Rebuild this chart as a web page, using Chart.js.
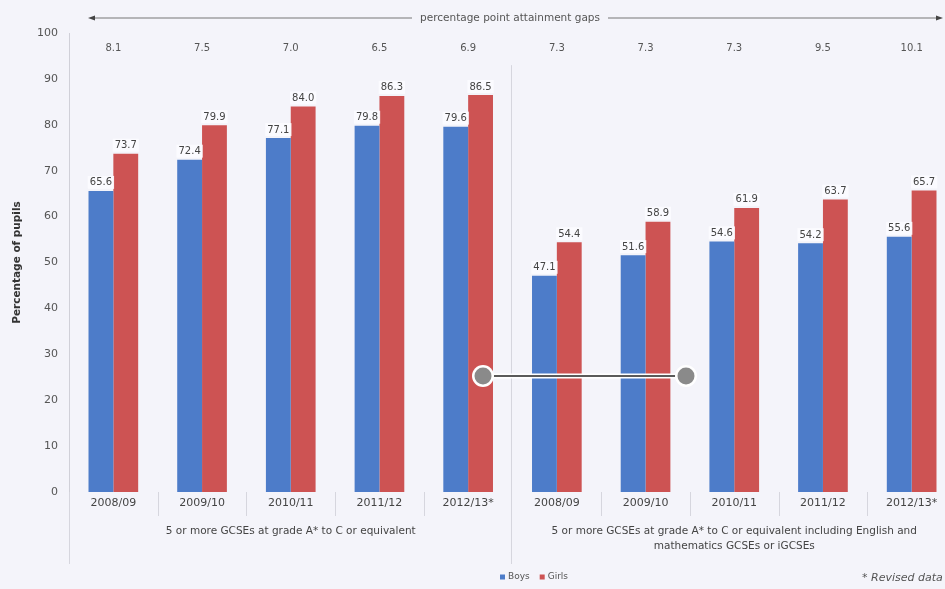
<!DOCTYPE html>
<html>
<head>
<meta charset="utf-8">
<script src="https://cdn.jsdelivr.net/npm/chart.js@4.4.0/dist/chart.umd.min.js"></script>
<style>
  html, body { margin: 0; padding: 0; background: #f4f4fa; overflow: hidden; }
  #wrap { width: 956px; height: 589px; position: relative; }
</style>
</head>
<body>
<div id="wrap"><canvas id="chart-0"></canvas></div>
<script>
// attainment by year, two measures side by side
var years = ['2008/09', '2009/10', '2010/11', '2011/12', '2012/13*',
             '2008/09', '2009/10', '2010/11', '2011/12', '2012/13*'];
var boys  = [65.6, 72.4, 77.1, 79.8, 79.6, 47.1, 51.6, 54.6, 54.2, 55.6];
var girls = [73.7, 79.9, 84.0, 86.3, 86.5, 54.4, 58.9, 61.9, 63.7, 65.7];
var gaps  = ['8.1', '7.5', '7.0', '6.5', '6.9', '7.3', '7.3', '7.3', '9.5', '10.1'];
var groupNames = [
  ['5 or more GCSEs at grade A* to C or equivalent'],
  ['5 or more GCSEs at grade A* to C or equivalent including English and', 'mathematics GCSEs or iGCSEs']
];
var yTicks = [0, 10, 20, 30, 40, 50, 60, 70, 80, 90, 100];

var BLUE = '#4d7cc9', RED = '#cd5353';
var FONT = '"DejaVu Sans", sans-serif';

var extras = {
  id: 'extras',
  afterDatasetsDraw: function (chart) {
    var ctx = chart.ctx, area = chart.chartArea;
    var xs = chart.scales.x, ys = chart.scales.y;
    var n = years.length, half = n / 2;
    var mid = function (i) { return (xs.getPixelForValue(i - 1) + xs.getPixelForValue(i)) / 2; };
    ctx.save();

    // separators under the axis
    ctx.strokeStyle = '#d6d6de';
    ctx.lineWidth = 1;
    for (var i = 1; i < n; i++) {
      if (i === half) continue;
      var sx = Math.round(mid(i)) + 0.5;
      ctx.beginPath(); ctx.moveTo(sx, area.bottom); ctx.lineTo(sx, area.bottom + 24); ctx.stroke();
    }
    [area.left, mid(half) - 2].forEach(function (gx) {
      var top = gx > area.left + 2 ? ys.getPixelForValue(93) : area.bottom;
      gx = Math.round(gx) + 0.5;
      ctx.beginPath(); ctx.moveTo(gx, top); ctx.lineTo(gx, area.bottom + 72); ctx.stroke();
    });

    // value labels over the bars
    ctx.font = '10px ' + FONT;
    ctx.textAlign = 'center';
    ctx.textBaseline = 'bottom';
    chart.data.datasets.forEach(function (ds, d) {
      chart.getDatasetMeta(d).data.forEach(function (bar, j) {
        var txt = ds.data[j].toFixed(1);
        var w = ctx.measureText(txt).width + 4;
        ctx.fillStyle = 'rgba(252,252,255,0.9)';
        ctx.fillRect(bar.x - w / 2, bar.y - 15, w, 13);
        ctx.fillStyle = '#444';
        ctx.fillText(txt, bar.x, bar.y - 3);
      });
    });

    // gap figures along the top
    ctx.font = '10px ' + FONT;
    ctx.fillStyle = '#555';
    ctx.textBaseline = 'middle';
    gaps.forEach(function (g, j) { ctx.fillText(g, xs.getPixelForValue(j), 48); });

    // arrow with caption
    var cap = 'percentage point attainment gaps';
    var capX = 510, capY = 18;
    ctx.font = '10.5px ' + FONT;
    ctx.fillStyle = '#555';
    ctx.fillText(cap, capX, capY);
    var cw = ctx.measureText(cap).width;
    ctx.strokeStyle = '#777';
    ctx.lineWidth = 1.2;
    ctx.beginPath();
    ctx.moveTo(92, capY); ctx.lineTo(capX - cw / 2 - 8, capY);
    ctx.moveTo(capX + cw / 2 + 8, capY); ctx.lineTo(940, capY);
    ctx.stroke();
    ctx.fillStyle = '#444';
    ctx.beginPath(); ctx.moveTo(88, capY); ctx.lineTo(95, capY - 2.5); ctx.lineTo(95, capY + 2.5); ctx.fill();
    ctx.beginPath(); ctx.moveTo(943, capY); ctx.lineTo(936, capY - 2.5); ctx.lineTo(936, capY + 2.5); ctx.fill();

    // group captions under the year labels
    ctx.font = '10.5px ' + FONT;
    ctx.fillStyle = '#444';
    groupNames.forEach(function (lines, g) {
      var a = g === 0 ? area.left : mid(half);
      var b = g === 0 ? mid(half) : area.right;
      lines.forEach(function (t, k) { ctx.fillText(t, (a + b) / 2, 531 + k * 15); });
    });

    // legend
    var lx = 500, ly = 577;
    ctx.textAlign = 'left';
    ctx.font = '9px ' + FONT;
    [['Boys', BLUE], ['Girls', RED]].forEach(function (it) {
      ctx.fillStyle = it[1];
      ctx.fillRect(lx, ly - 2.5, 5, 5);
      ctx.fillStyle = '#555';
      ctx.fillText(it[0], lx + 8, ly);
      lx += 8 + ctx.measureText(it[0]).width + 10;
    });
    ctx.font = 'italic 11px ' + FONT;
    ctx.fillText('* Revised data', 862, 578);

    // grey slider handle across the middle
    var hy = 376;
    ctx.strokeStyle = '#ffffff';
    ctx.lineWidth = 5;
    ctx.beginPath(); ctx.moveTo(483, hy); ctx.lineTo(686, hy); ctx.stroke();
    ctx.strokeStyle = '#5a5a5a';
    ctx.lineWidth = 2;
    ctx.beginPath(); ctx.moveTo(483, hy); ctx.lineTo(686, hy); ctx.stroke();
    [483, 686].forEach(function (cx) {
      ctx.beginPath(); ctx.arc(cx, hy, 11, 0, Math.PI * 2);
      ctx.fillStyle = '#ffffff'; ctx.fill();
      ctx.beginPath(); ctx.arc(cx, hy, 8.5, 0, Math.PI * 2);
      ctx.fillStyle = '#8a8a8a'; ctx.fill();
    });
    ctx.restore();
  }
};

new Chart(document.getElementById('chart-0'), {
  type: 'bar',
  data: {
    labels: years,
    datasets: [
      { label: 'Boys', data: boys, backgroundColor: BLUE },
      { label: 'Girls', data: girls, backgroundColor: RED }
    ]
  },
  options: {
    responsive: true,
    maintainAspectRatio: false,
    animation: false,
    layout: { padding: { top: 33, right: 0, bottom: 0, left: 0 } },
    datasets: { bar: { categoryPercentage: 0.56, barPercentage: 1.0 } },
    plugins: { legend: { display: false }, tooltip: { enabled: false } },
    scales: {
      x: {
        grid: { display: false, drawTicks: false },
        border: { display: false },
        ticks: { color: '#444', font: { family: FONT, size: 11 }, padding: 5, maxRotation: 0, autoSkip: false },
        afterFit: function (s) { s.height = 97; }
      },
      y: {
        min: 0, max: 100,
        afterBuildTicks: function (s) { s.ticks = yTicks.map(function (v) { return { value: v }; }); },
        grid: { display: false, drawTicks: false },
        border: { display: true, color: '#d0d0d8' },
        ticks: { color: '#555', font: { family: FONT, size: 11 }, padding: 11 },
        title: { display: true, text: 'Percentage of pupils', color: '#333',
                 font: { family: FONT, size: 10.5, weight: 'bold' }, padding: { top: 11, bottom: 0 } },
        afterFit: function (s) { s.width = 69; }
      }
    }
  },
  plugins: [extras]
});
</script>
</body>
</html>
